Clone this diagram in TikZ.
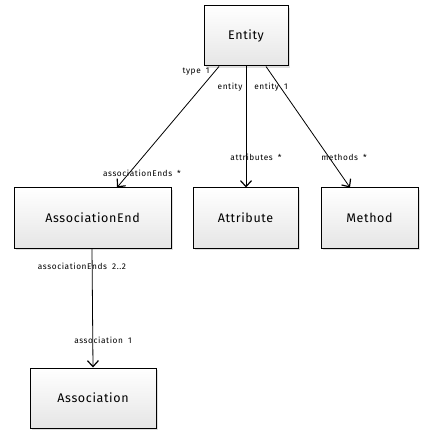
\documentclass[tikz,border=0pt]{standalone}
\usepackage{fontspec}
\setmainfont{Fira Sans}
\newfontfamily\boxfont[LetterSpace=5]{Fira Sans}
\newfontfamily\lblfont[LetterSpace=7]{Fira Sans}
\usetikzlibrary{arrows.meta,shadows}
\begin{document}
\begin{tikzpicture}[x=1pt,y=-1pt,
  box/.style={draw=black,line width=1pt,top color=white,bottom color=black!10,
    drop shadow={shadow xshift=2pt,shadow yshift=-2pt,opacity=0.25},
    minimum height=60pt,inner sep=0pt,font=\boxfont\fontsize{12.5}{14}\selectfont},
  arr/.style={line width=0.8pt,-{Straight Barb[length=6pt,width=11pt,line width=1.2pt]}},
  lbl/.style={font=\lblfont\fontsize{8.3}{9}\selectfont,inner sep=0pt}]
\useasboundingbox (0,0) rectangle (423,435);
\node[box,minimum width=84pt] (ent) at (246,36) {Entity};
\node[box,minimum width=157pt] (ae) at (92.5,218) {AssociationEnd};
\node[box,minimum width=105pt] (att) at (245.5,218) {Attribute};
\node[box,minimum width=97pt] (met) at (369.5,218) {Method};
\node[box,minimum width=126pt] (asc) at (93,398) {Association};
\draw[arr] ([xshift=-27pt]ent.south) -- ([xshift=24.5pt]ae.north);
\draw[arr] ([xshift=0pt]ent.south) -- ([xshift=0.5pt]att.north);
\draw[arr] ([xshift=20pt]ent.south) -- ([xshift=-19.5pt]met.north);
\draw[arr] ([xshift=-0.5pt]ae.south) -- (asc.north);
\node[lbl] (l1) at (196,72) {type \;1};
\node[lbl] (l2) at (142,173) {associationEnds \;*};
\node[lbl] (l3) at (230,87) {entity};
\node[lbl] (l4) at (271,87) {entity \;1};
\node[lbl] (l5) at (256,157) {attributes \;*};
\node[lbl] (l6) at (344,157) {methods \;*};
\node[lbl] (l7) at (82,266) {associationEnds \;2..2};
\node[lbl] (l8) at (103,340) {association \;1};
\end{tikzpicture}
\end{document}
